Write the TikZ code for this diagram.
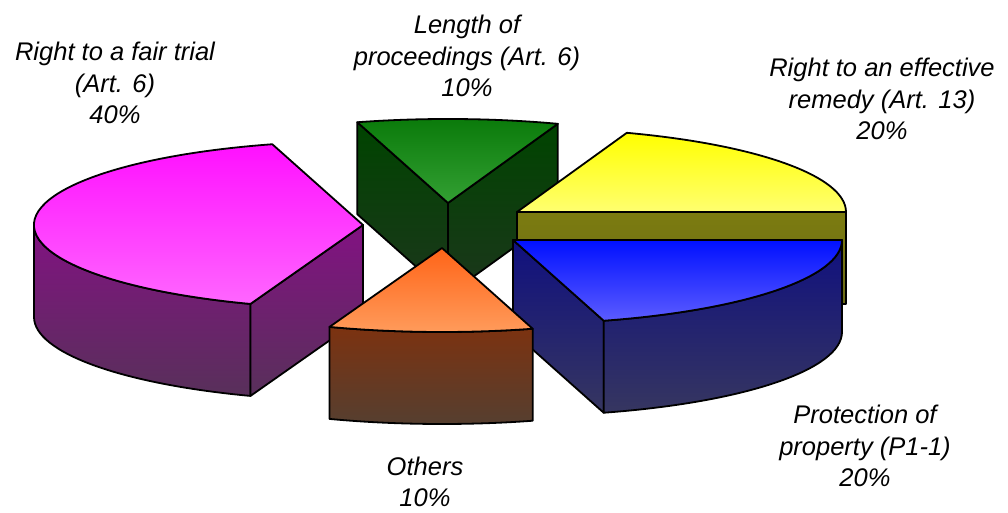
\documentclass[tikz,border=0pt]{standalone}
\usepackage{fontspec}
\setmainfont{Liberation Sans}
\usetikzlibrary{calc}
\definecolor{pinkA}{HTML}{FF10FF}
\definecolor{pinkB}{HTML}{FF66FF}
\definecolor{pinkS1}{HTML}{821282}
\definecolor{pinkS2}{HTML}{58305A}
\definecolor{grnA}{HTML}{0A7A0A}
\definecolor{grnB}{HTML}{33A033}
\definecolor{grnS1}{HTML}{004400}
\definecolor{grnS2}{HTML}{1C361C}
\definecolor{yelA}{HTML}{FFFF00}
\definecolor{yelB}{HTML}{FFFF70}
\definecolor{yelS1}{HTML}{7C7C10}
\definecolor{yelS2}{HTML}{6A6A18}
\definecolor{bluA}{HTML}{0010FF}
\definecolor{bluB}{HTML}{5C5CFF}
\definecolor{bluS1}{HTML}{10107F}
\definecolor{bluS2}{HTML}{363660}
\definecolor{orgA}{HTML}{FF6418}
\definecolor{orgB}{HTML}{FF9C5C}
\definecolor{orgS1}{HTML}{7C3210}
\definecolor{orgS2}{HTML}{553F30}
\begin{document}
\begin{tikzpicture}[x=1pt,y=1pt,line width=1.8pt,line join=round,
  lab/.style={align=center,font=\itshape\fontsize{25.5}{31.5}\selectfont,inner sep=0pt,anchor=base},
  face/.style={draw=black}]
\useasboundingbox (0,0) rectangle (1008,513);
\def\rx{329}\def\ry{84}\def\h{92}
\coordinate (G) at (448,310);
\coordinate (Y) at (517,301);
\coordinate (P) at (363,288);
\coordinate (B) at (513,273);
\coordinate (O) at (442,265);
% green slice
\draw[face,top color=grnS1,bottom color=grnS2] (G) -- ($(G)+(106:\rx pt and \ry pt)$) -- ++(0,-\h) -- ($(G)+(0,-\h)$) -- cycle;
\draw[face,top color=grnS1,bottom color=grnS2] (G) -- ($(G)+(70.5:\rx pt and \ry pt)$) -- ++(0,-\h) -- ($(G)+(0,-\h)$) -- cycle;
\draw[face,top color=grnA,bottom color=grnB] (G) -- ($(G)+(70.5:\rx pt and \ry pt)$) arc[start angle=70.5,end angle=106,x radius=\rx pt,y radius=\ry pt] -- cycle;
% yellow slice
\draw[face,top color=yelS1,bottom color=yelS2] (Y) -- ($(Y)+(0:\rx pt and \ry pt)$) -- ++(0,-\h) -- ($(Y)+(0,-\h)$) -- cycle;
\draw[face,top color=yelA,bottom color=yelB] (Y) -- ($(Y)+(0:\rx pt and \ry pt)$) arc[start angle=0,end angle=70.5,x radius=\rx pt,y radius=\ry pt] -- cycle;
% pink slice
\draw[face,top color=pinkS1,bottom color=pinkS2] ($(P)+(180:\rx pt and \ry pt)$) arc[start angle=180,end angle=250,x radius=\rx pt,y radius=\ry pt] -- ++(0,-\h) arc[start angle=250,end angle=180,x radius=\rx pt,y radius=\ry pt] -- cycle;
\draw[face,top color=pinkS1,bottom color=pinkS2] (P) -- ($(P)+(250:\rx pt and \ry pt)$) -- ++(0,-\h) -- ($(P)+(0,-\h)$) -- cycle;
\draw[face,top color=pinkA,bottom color=pinkB] (P) -- ($(P)+(106:\rx pt and \ry pt)$) arc[start angle=106,end angle=250,x radius=\rx pt,y radius=\ry pt] -- cycle;
% blue slice
\draw[face,top color=bluS1,bottom color=bluS2] (B) -- ($(B)+(286:\rx pt and \ry pt)$) -- ++(0,-\h) -- ($(B)+(0,-\h)$) -- cycle;
\draw[face,top color=bluS1,bottom color=bluS2] ($(B)+(286:\rx pt and \ry pt)$) arc[start angle=286,end angle=360,x radius=\rx pt,y radius=\ry pt] -- ++(0,-\h) arc[start angle=360,end angle=286,x radius=\rx pt,y radius=\ry pt] -- cycle;
\draw[face,top color=bluA,bottom color=bluB] (B) -- ($(B)+(286:\rx pt and \ry pt)$) arc[start angle=286,end angle=360,x radius=\rx pt,y radius=\ry pt] -- cycle;
% orange slice
\draw[face,top color=orgS1,bottom color=orgS2] ($(O)+(250:\rx pt and \ry pt)$) arc[start angle=250,end angle=286,x radius=\rx pt,y radius=\ry pt] -- ++(0,-\h) arc[start angle=286,end angle=250,x radius=\rx pt,y radius=\ry pt] -- cycle;
\draw[face,top color=orgA,bottom color=orgB] (O) -- ($(O)+(250:\rx pt and \ry pt)$) arc[start angle=250,end angle=286,x radius=\rx pt,y radius=\ry pt] -- cycle;
% labels (anchor = baseline of last line)
\node[lab] (l1) at (115,389) {Right to a fair trial\\(Art. 6)\\40\%};
\node[lab] (l2) at (467,416) {Length of\\proceedings (Art. 6)\\10\%};
\node[lab] (l3) at (882,373) {Right to an effective\\remedy (Art. 13)\\20\%};
\node[lab] (l4) at (865,26) {Protection of\\property (P1-1)\\20\%};
\node[lab] (l5) at (425,6) {Others\\10\%};
\end{tikzpicture}
\end{document}
